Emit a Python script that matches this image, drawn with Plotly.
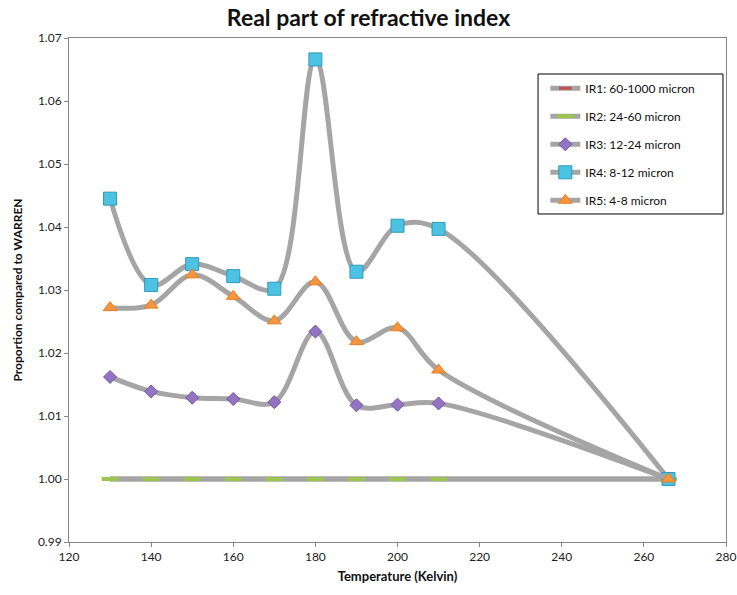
import plotly.graph_objects as go

temps = [130, 140, 150, 160, 170, 180, 190, 200, 210, 266]
names = ["IR1: 60-1000 micron", "IR2: 24-60 micron", "IR3: 12-24 micron",
         "IR4: 8-12 micron", "IR5: 4-8 micron"]
ir1 = [1.0, 1.0, 1.0, 1.0, 1.0, 1.0, 1.0, 1.0, 1.0, 1.0]
ir2 = [1.0, 1.0, 1.0, 1.0, 1.0, 1.0, 1.0, 1.0, 1.0, 1.0]
ir3 = [1.0162, 1.0139, 1.0129, 1.0127, 1.0122, 1.0234, 1.0117, 1.0118, 1.0120, 1.0]
ir4 = [1.0445, 1.0308, 1.0341, 1.0322, 1.0302, 1.0666, 1.0329, 1.0402, 1.0397, 1.0]
ir5 = [1.0272, 1.0276, 1.0324, 1.0290, 1.0251, 1.0313, 1.0218, 1.0240, 1.0173, 1.0]

series = [ir1, ir2, ir3, ir4, ir5]
markers = [
    dict(symbol="line-ew", size=9, color="#c0504d", line=dict(color="#c0504d", width=3)),
    dict(symbol="line-ew", size=12, color="#9bc54f", line=dict(color="#9bc54f", width=4)),
    dict(symbol="diamond", size=10, color="#9473c2", line=dict(color="#6f54a0", width=1)),
    dict(symbol="square", size=13, color="#4cc3e2", line=dict(color="#3199ba", width=1)),
    dict(symbol="triangle-up", size=12, color="#f7953c", line=dict(color="#e2802a", width=1)),
]

fig = go.Figure()
for i, (nm, ys) in enumerate(zip(names, series)):
    fig.add_trace(go.Scatter(
        x=temps, y=ys, name=nm, mode="lines+markers",
        line=dict(color="#a5a5a5", width=5, shape="spline", smoothing=1),
        marker=markers[i], legendgroup="g%d" % i,
    ))

axis_common = dict(
    showgrid=False, zeroline=False, showline=True, linecolor="#868686",
    linewidth=1, mirror=True, ticks="outside", ticklen=4, tickcolor="#868686",
    tickfont=dict(family="Lato, Open Sans, sans-serif", size=12, color="#222"),
    automargin=False, ticklabeloverflow="allow",
)

# legend frame (wider than plotly's auto-sized box, as in the reference)
fig.add_shape(type="rect", xref="paper", yref="paper",
              x0=0.7139, x1=0.9954, y0=0.6508, y1=0.9286,
              line=dict(color="#000", width=1), fillcolor="white", layer="above")

fig.update_layout(
    width=737, height=595,
    margin=dict(l=69, r=11, t=38, b=53, autoexpand=False),
    paper_bgcolor="white", plot_bgcolor="white",
    title=dict(text="<b>Real part of refractive index</b>", x=0.5, xanchor="center",
               y=0.97, yanchor="middle",
               font=dict(family="Lato, Open Sans, sans-serif", size=23, color="#111")),
    xaxis=dict(range=[120, 280], dtick=20, tick0=120,
               title=dict(text="<b>Temperature (Kelvin)</b>", standoff=8,
                          font=dict(family="Lato, Open Sans, sans-serif", size=13, color="#111")),
               **axis_common),
    yaxis=dict(range=[0.99, 1.07], dtick=0.01, tick0=0.99, tickformat=".2f",
               title=dict(text="<b>Proportion compared to WARREN</b>", standoff=12,
                          font=dict(family="Lato, Open Sans, sans-serif", size=12, color="#111")),
               **axis_common),
    legend=dict(x=0.725, y=0.929, xanchor="left", yanchor="top",
                bgcolor="rgba(0,0,0,0)", borderwidth=0,
                font=dict(family="Lato, Open Sans, sans-serif", size=12, color="#111"),
                traceorder="grouped", tracegroupgap=9, itemwidth=30,
                itemsizing="trace"),
    showlegend=True,
)

fig.write_html("out.html")
